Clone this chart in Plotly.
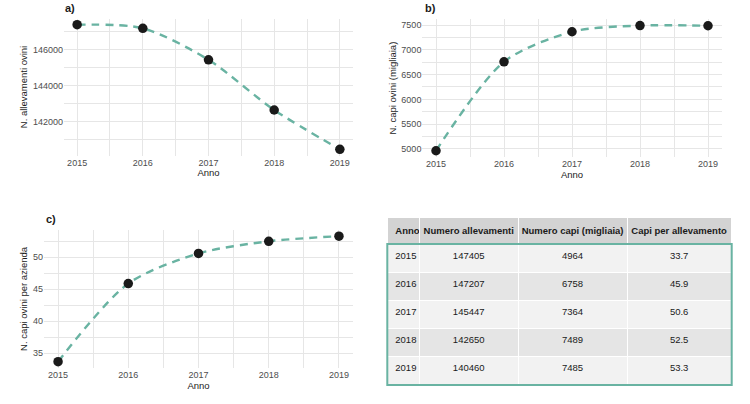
import plotly.graph_objects as go

anni = [2015, 2016, 2017, 2018, 2019]
allevamenti = [147405, 147207, 145447, 142650, 140460]
capi = [4964, 6758, 7364, 7489, 7485]
capi_per_all = [33.7, 45.9, 50.6, 52.5, 53.3]

header_labels = ["Anno", "Numero allevamenti", "Numero capi (migliaia)", "Capi per allevamento"]

W, H = 750, 404
LINE_COL = "#69b3a2"
GRID = "#e6e6e6"
FONT = "Liberation Sans, Arial, sans-serif"

def px_x(v):
    return v / W

def px_y(v):
    return 1 - v / H

fig = go.Figure()

series = [
    (allevamenti, "x", "y"),
    (capi, "x2", "y2"),
    (capi_per_all, "x3", "y3"),
]
for vals, xa, ya in series:
    fig.add_trace(go.Scatter(
        x=anni, y=vals, xaxis=xa, yaxis=ya, mode="lines",
        line=dict(color=LINE_COL, width=2.4, dash="8px,6px", shape="spline", smoothing=0.8),
        hoverinfo="skip", showlegend=False))
    fig.add_trace(go.Scatter(
        x=anni, y=vals, xaxis=xa, yaxis=ya, mode="markers",
        marker=dict(color="#1a1a1a", size=9.5),
        showlegend=False))

def xaxis_cfg(domain, anchor):
    return dict(
        domain=domain, anchor=anchor, range=[2014.8, 2019.2],
        tickmode="array", tickvals=anni, ticktext=[str(a) for a in anni],
        showgrid=True, gridcolor=GRID, gridwidth=1, zeroline=False, showline=False,
        ticks="", ticklen=0,
        minor=dict(tickmode="array", tickvals=[a + 0.5 for a in anni[:-1]], showgrid=True, gridcolor=GRID, gridwidth=0.6),
        tickfont=dict(size=9, color="#4d4d4d"),
        title=dict(text="Anno", font=dict(size=9.5, color="#1a1a1a"), standoff=1),
    )

def yaxis_cfg(domain, anchor, rng, tickvals, minorvals, title):
    return dict(
        domain=domain, anchor=anchor, range=rng,
        tickmode="array", tickvals=tickvals, ticktext=[str(t) for t in tickvals],
        showgrid=True, gridcolor=GRID, gridwidth=1, zeroline=False, showline=False,
        ticks="", ticklen=0,
        minor=dict(tickmode="array", tickvals=minorvals, showgrid=True, gridcolor=GRID, gridwidth=0.6),
        tickfont=dict(size=9, color="#4d4d4d"),
        title=dict(text=title, font=dict(size=9.5, color="#1a1a1a"), standoff=3),
    )

fig.update_layout(
    width=W, height=H,
    margin=dict(l=0, r=0, t=0, b=0),
    paper_bgcolor="white", plot_bgcolor="white",
    font=dict(family=FONT),
    xaxis=xaxis_cfg([px_x(64), px_x(353)], "y"),
    yaxis=yaxis_cfg([px_y(155.5), px_y(18.5)], "x", [140113, 147752],
                    [142000, 144000, 146000], [141000, 143000, 145000, 147000],
                    "N. allevamenti ovini"),
    xaxis2=xaxis_cfg([px_x(422.4), px_x(721.6)], "y2"),
    yaxis2=yaxis_cfg([px_y(157), px_y(19.3)], "x2", [4838, 7615],
                     [5000, 5500, 6000, 6500, 7000, 7500], [5250, 5750, 6250, 6750, 7250],
                     "N. capi ovini (migliaia)"),
    xaxis3=xaxis_cfg([px_x(44), px_x(353)], "y3"),
    yaxis3=yaxis_cfg([px_y(367.9), px_y(229.9)], "x3", [32.72, 54.28],
                     [35, 40, 45, 50], [37.5, 42.5, 47.5, 52.5],
                     "N. capi ovini per azienda"),
)

# Table
row_fill = ["#f2f2f2" if i % 2 == 0 else "#e5e5e5" for i in range(len(anni))]
fig.add_trace(go.Table(
    domain=dict(x=[px_x(387.3), px_x(731.7)], y=[px_y(386), px_y(217)]),
    columnwidth=[32, 99, 109, 104.4],
    header=dict(
        values=["<b>%s</b>" % h.replace(" ", "\u00a0") for h in header_labels],
        fill_color="#d3d3d3", line=dict(color="white", width=1),
        align=["left", "center", "center", "center"],
        font=dict(size=9.5, color="#1a1a1a", family=FONT), height=27),
    cells=dict(
        values=[anni, allevamenti, capi, ["%.1f" % v for v in capi_per_all]],
        fill_color=[row_fill] * 4, line=dict(color="white", width=1),
        align=["left", "center", "center", "center"],
        font=dict(size=9.5, color="#1a1a1a", family=FONT), height=28),
))

fig.add_shape(type="rect", xref="paper", yref="paper",
              x0=px_x(387.3), x1=px_x(731.7), y0=px_y(385), y1=px_y(244),
              line=dict(color=LINE_COL, width=2), fillcolor="rgba(0,0,0,0)")

for txt, x, y in [("a)", 63, 8), ("b)", 423, 8), ("c)", 44, 219)]:
    fig.add_annotation(text="<b>%s</b>" % txt, x=px_x(x), y=px_y(y), xref="paper", yref="paper",
                       showarrow=False, xanchor="left", yanchor="middle",
                       font=dict(size=11, color="#1a1a1a", family=FONT))

fig.write_html("out.html", config={"displayModeBar": False},
               post_script="document.body.style.margin='0';document.body.style.padding='0';")
